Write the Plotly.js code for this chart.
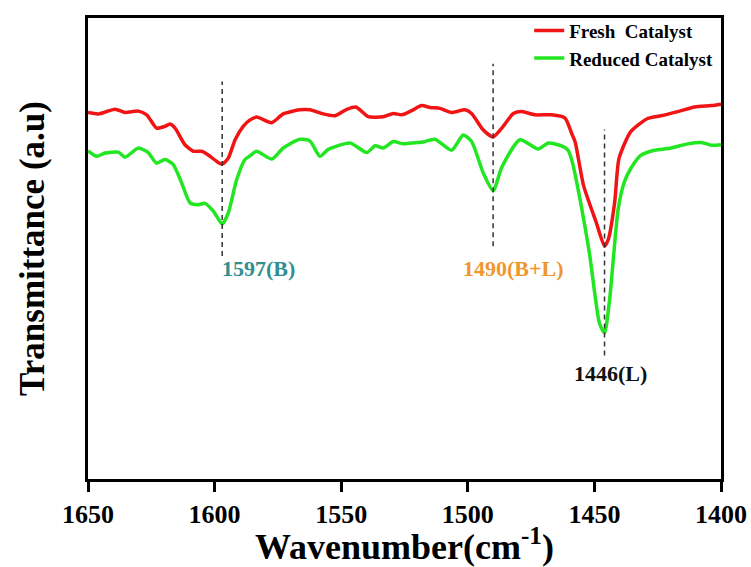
<!DOCTYPE html>
<html>
<head>
<meta charset="utf-8">
<script src="https://cdn.plot.ly/plotly-3.0.1.min.js"></script>
<style>html,body{margin:0;padding:0;background:#fff;}#chart{width:751px;height:567px;}</style>
</head>
<body>
<div id="chart"></div>
<script>
// Wavenumbers (cm^-1) and transmittance (a.u.)
const freshWavenumber = [1650,1645.9,1639.3,1635.4,1630.1,1626.8,1622.9,1619.6,1617.6,1615.6,1611.7,1608.4,1605.1,1602.5,1599.2,1597,1594.6,1591.9,1588.7,1586.0,1583.4,1577.4,1572.9,1566.3,1562.3,1557.7,1552.4,1547.8,1544.2,1539.3,1533.4,1529.4,1526.1,1522.2,1518.2,1514.9,1511.0,1506.4,1501.1,1498.5,1493.9,1490,1486.6,1482.0,1478.7,1473.5,1466.9,1461.6,1459.0,1457.6,1454.3,1449.3,1446,1444.5,1442,1440.3,1435.7,1429.0,1423.7,1417.1,1410.4,1403.8,1400];
const freshT = [79.5,79.2,80.2,79.5,79.8,79.0,76.1,76.5,77.0,76.1,72.5,71.1,71.1,70.3,68.9,68.3,69.6,73.6,76.5,77.9,78.5,77.3,79.2,80.1,80.1,79.3,78.8,80.2,80.7,78.6,78.6,79.3,79.0,79.9,81.0,80.6,80.4,79.5,80.1,79.3,75.7,74.2,76.1,79.3,79.7,79.0,79.0,78.3,75.0,73.1,63.7,55.7,50.5,52.0,60.0,69.5,75.3,78.2,78.8,79.7,80.7,81.0,81.3];

const reducedWavenumber = [1650,1646.6,1643.3,1638.0,1635.4,1630.1,1626.2,1622.9,1619.6,1616.3,1613.0,1609.7,1606.4,1603.8,1600.5,1597,1594.6,1591.3,1588.0,1586.0,1583.4,1577.4,1572.9,1566.3,1562.3,1558.4,1555.1,1546.5,1539.9,1536.6,1533.4,1529.4,1525.5,1522.2,1517.6,1513.0,1506.4,1501.8,1498.5,1493.9,1490,1486.6,1479.4,1472.2,1468.2,1462.3,1460.4,1458.8,1457.0,1452.0,1448.0,1446,1444.0,1440.6,1438.2,1435.7,1431.7,1426.3,1419.7,1413.1,1407.7,1403.8,1400];
const reducedT = [71.2,70.0,70.7,70.9,69.8,71.8,70.8,68.5,69.3,68.2,64.2,59.9,59.5,59.8,58.1,55.3,57.7,64.9,69.3,70.1,71.1,69.4,71.8,73.7,73.3,70.0,71.5,72.9,70.8,72.3,71.8,73.2,72.7,72.9,73.1,73.7,71.3,74.6,73.2,66.4,62.5,67.6,73.6,71.6,72.9,72.1,71.3,68.9,64.4,49.1,33.8,31.7,38.9,58.6,64.4,67.3,70.2,71.3,71.8,72.7,73.0,72.4,72.5];

const seriesNames = ['Fresh  Catalyst', 'Reduced Catalyst'];

// Peak markers
const peakWavenumber = [1597, 1490, 1446];
const peakLabels = ['1597(B)', '1490(B+L)', '1446(L)'];
const peakLineTop = [86.2, 90.1, 75.8];
const peakLineBottom = [48.4, 50.5, 26.8];
const peakLabelY = [45.6, 45.6, 22.9];

const xTicks = [1650, 1600, 1550, 1500, 1450, 1400];

const serif = 'Liberation Serif, Times New Roman, serif';
const labelColors = ['#2f8f8f', '#f0962e', '#111111'];
const labelShift = [36, 20, 6];

const traces = [
  {x: freshWavenumber, y: freshT, name: seriesNames[0], type: 'scatter', mode: 'lines',
   line: {color: '#f01414', width: 3.5, shape: 'spline', smoothing: 0.6}},
  {x: reducedWavenumber, y: reducedT, name: seriesNames[1], type: 'scatter', mode: 'lines',
   line: {color: '#22e622', width: 3.5, shape: 'spline', smoothing: 0.6}}
];

const shapes = peakWavenumber.map((p, i) => ({
  type: 'line', xref: 'x', yref: 'y', x0: p, x1: p, y0: peakLineBottom[i], y1: peakLineTop[i],
  line: {color: '#333', width: 1.5, dash: '5px,4px'}
}));

const annotations = peakWavenumber.map((p, i) => ({
  x: p, y: peakLabelY[i], xref: 'x', yref: 'y', text: peakLabels[i], showarrow: false,
  xshift: labelShift[i], font: {family: serif, size: 22, color: labelColors[i], weight: 700}
}));

const layout = {
  width: 751, height: 567,
  margin: {l: 88, r: 30, t: 16, b: 88},
  paper_bgcolor: '#fff', plot_bgcolor: '#fff',
  font: {family: serif},
  showlegend: true,
  legend: {x: 0.697, y: 1.014, xanchor: 'left', yanchor: 'top', bgcolor: 'rgba(0,0,0,0)',
           font: {family: serif, size: 19, color: '#000', weight: 700}, tracegroupgap: 0},
  xaxis: {range: [1650, 1400], tickvals: xTicks, ticktext: xTicks.map(String),
          showgrid: false, zeroline: false, showline: true, mirror: true, linecolor: '#000', linewidth: 3,
          ticks: 'outside', ticklen: 10, tickwidth: 3, tickcolor: '#000',
          tickfont: {family: serif, size: 26, color: '#000', weight: 700},
          title: {text: 'Wavenumber(cm<sup>-1</sup>)', standoff: 15,
                  font: {family: serif, size: 36, color: '#000', weight: 700}}},
  yaxis: {range: [0, 100], showticklabels: false, ticks: '', showgrid: false, zeroline: false,
          showline: true, mirror: true, linecolor: '#000', linewidth: 3,
          title: {text: 'Transmittance (a.u)', standoff: 30,
                  font: {family: serif, size: 35, color: '#000', weight: 700}}},
  shapes: shapes,
  annotations: annotations
};

Plotly.newPlot('chart', traces, layout, {displayModeBar: false, staticPlot: true});
</script>
</body>
</html>
